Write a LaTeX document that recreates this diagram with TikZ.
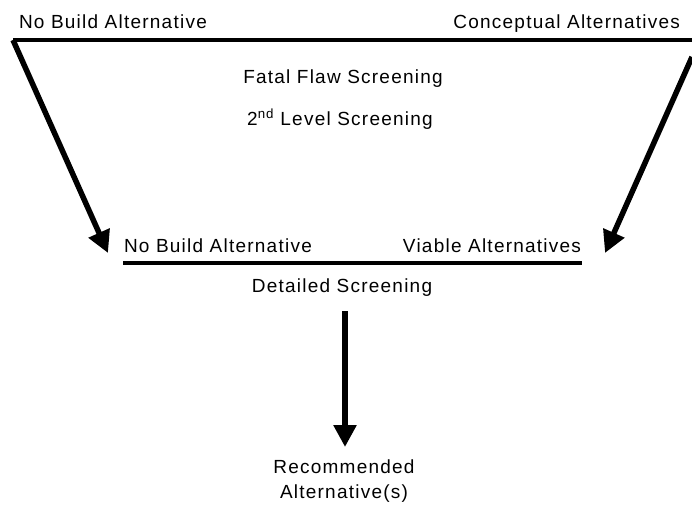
\documentclass[tikz,border=0pt]{standalone}
\usepackage{fontspec}
\setmainfont[LetterSpace=6.5]{Liberation Sans}
\usetikzlibrary{arrows.meta}
\begin{document}
\begin{tikzpicture}[x=1pt,y=1pt,
  lbl/.style={inner sep=0pt,outer sep=0pt,font=\fontsize{19}{22}\selectfont},
  bar/.style={line width=3.5pt},
  flow/.style={line width=5.5pt,-{Triangle[width=22pt,length=22pt]}}]
\useasboundingbox (0,0) rectangle (692,-504);
% text
\node[lbl,anchor=base west] (nb1) at (19,-28) {No Build Alternative};
\node[lbl,anchor=base east] (conc) at (680,-28) {Conceptual Alternatives};
\node[lbl,anchor=base] (fatal) at (343,-83) {Fatal Flaw Screening};
\node[lbl,anchor=base] (second) at (340,-125) {2\textsuperscript{nd} Level Screening};
\node[lbl,anchor=base west] (nb2) at (124,-252) {No Build Alternative};
\node[lbl,anchor=base east] (viable) at (581,-252) {Viable Alternatives};
\node[lbl,anchor=base] (detailed) at (342,-292) {Detailed Screening};
\node[lbl,anchor=base] (rec) at (344,-473) {Recommended};
\node[lbl,anchor=base] (alt) at (344,-498) {Alternative(s)};
% geometry
\coordinate (tl) at (13,-40);
\coordinate (tr) at (692,-40);
\coordinate (rs) at (692,-57);
\coordinate (ltip) at (108,-253);
\coordinate (rtip) at (605,-253);
\coordinate (bl) at (123,-263);
\coordinate (br) at (582,-263);
\coordinate (vs) at (345,-311);
\coordinate (vtip) at (345,-447);
\draw[bar] (tl) -- (tr);
\draw[bar] (bl) -- (br);
\draw[flow] (tl) -- (ltip);
\draw[flow] (rs) -- (rtip);
\draw[flow,line width=6.5pt] (vs) -- (vtip);
\end{tikzpicture}
\end{document}
